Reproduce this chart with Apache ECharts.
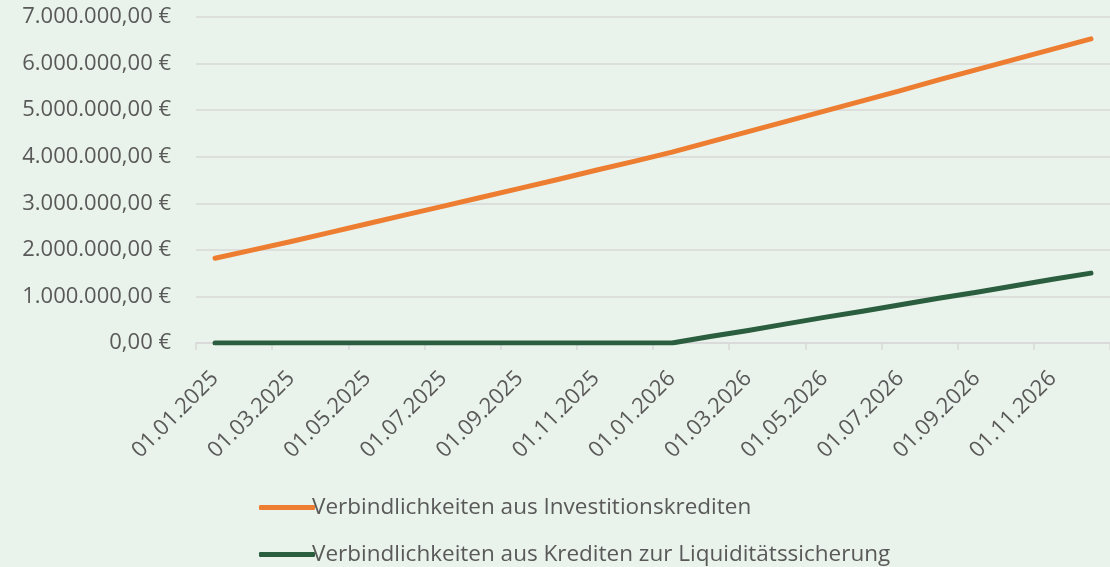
<!DOCTYPE html>
<html>
<head>
<meta charset="utf-8">
<script src="https://cdn.jsdelivr.net/npm/echarts@6/dist/echarts.min.js"></script>
<style>
    html, body {margin: 0; padding: 0; background: #EAF3EB;}
    #chart {width: 1110px; height: 567px;}
</style>
</head>
<body>
<div id="chart"></div>
<script>
// Monatswerte Jan 2025 bis Dez 2026
var months = [
    "01.01.2025", "01.02.2025", "01.03.2025", "01.04.2025", "01.05.2025", "01.06.2025",
    "01.07.2025", "01.08.2025", "01.09.2025", "01.10.2025", "01.11.2025", "01.12.2025",
    "01.01.2026", "01.02.2026", "01.03.2026", "01.04.2026", "01.05.2026", "01.06.2026",
    "01.07.2026", "01.08.2026", "01.09.2026", "01.10.2026", "01.11.2026", "01.12.2026"
];
var investName = "Verbindlichkeiten aus Investitionskrediten";
var investValues = [
    1820000, 2000000, 2180000, 2370000, 2560000, 2750000,
    2940000, 3130000, 3320000, 3510000, 3710000, 3900000,
    4100000, 4320000, 4540000, 4760000, 4980000, 5200000,
    5420000, 5650000, 5870000, 6090000, 6310000, 6530000
];
var liquiName = "Verbindlichkeiten aus Krediten zur Liquiditätssicherung";
var liquiValues = [
    0, 0, 0, 0, 0, 0,
    0, 0, 0, 0, 0, 0,
    0, 140000, 270000, 410000, 550000, 680000,
    820000, 960000, 1090000, 1230000, 1370000, 1500000
];
var yTicks = [0, 1000000, 2000000, 3000000, 4000000, 5000000, 6000000, 7000000];

var fontName = "'Open Sans', sans-serif";
var textColor = "#595959";

function euro(v) {
    let s = Math.round(v).toString().replace(/\B(?=(\d{3})+(?!\d))/g, ".");
    return s + ",00 €";
}

var myChart = echarts.init(document.getElementById("chart"), null, {renderer: "canvas"});
var option = {
    backgroundColor: "#EAF3EB",
    animation: false,
    grid: {
        left: 196,
        top: 17,
        width: 916,
        height: 326
    },
    xAxis: {
        type: "category",
        data: months,
        boundaryGap: true,
        axisLine: {lineStyle: {color: "#D9D9D9", width: 1.5}},
        axisTick: {show: true, interval: 1, length: 7, lineStyle: {color: "#D9D9D9", width: 1.5}},
        axisLabel: {
            interval: 1,
            rotate: 45,
            margin: 32,
            color: textColor,
            fontFamily: fontName,
            fontSize: 22
        },
        splitLine: {show: false}
    },
    yAxis: {
        type: "value",
        min: yTicks[0],
        max: yTicks[yTicks.length - 1],
        interval: 1000000,
        axisLine: {show: false},
        axisTick: {show: false},
        axisLabel: {
            margin: 25,
            color: textColor,
            fontFamily: fontName,
            fontSize: 22,
            formatter: euro
        },
        splitLine: {lineStyle: {color: "#D9D9D9", width: 1.5}}
    },
    legend: {
        orient: "vertical",
        left: 254,
        top: 491,
        height: 76,
        itemWidth: 56,
        itemHeight: 5,
        itemGap: 24,
        icon: "roundRect",
        textStyle: {color: textColor, fontFamily: fontName, fontSize: 22.5, lineHeight: 22, padding: [0, 0, 0, -8]},
        data: [investName, liquiName]
    },
    series: [
        {
            name: investName,
            type: "line",
            data: investValues,
            showSymbol: false,
            symbol: "none",
            color: "#ED7D31",
            lineStyle: {width: 5, cap: "round", join: "round"}
        },
        {
            name: liquiName,
            type: "line",
            data: liquiValues,
            showSymbol: false,
            symbol: "none",
            color: "#2B5E3F",
            lineStyle: {width: 5, cap: "round", join: "round"}
        }
    ]
};
myChart.setOption(option);
</script>
</body>
</html>
